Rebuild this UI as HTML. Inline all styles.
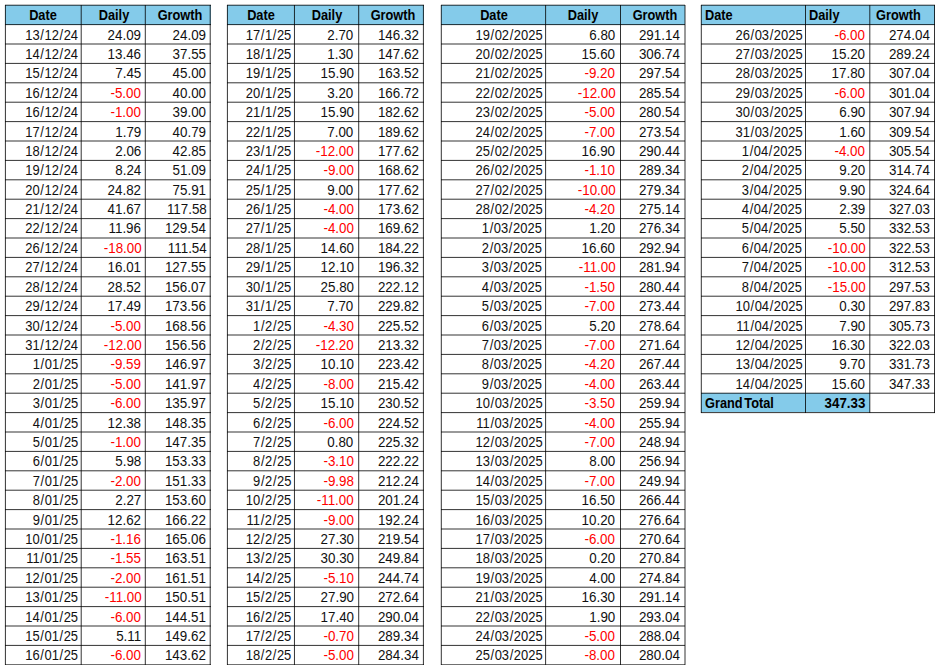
<!DOCTYPE html>
<html><head><meta charset="utf-8"><style>
html,body{margin:0;padding:0;background:#fff;}
body{width:940px;height:665px;position:relative;overflow:hidden;font-family:"Liberation Sans",sans-serif;color:#111;}
i{position:absolute;display:block;background:#000;}
i.f{background:#84CBEA;}
p{position:absolute;margin:0;height:20px;line-height:20px;font-size:14.0px;white-space:nowrap;}
p.r{transform-origin:100% 50%;transform:scaleX(0.955);}
p.l{transform-origin:0 50%;transform:scaleX(0.955);}
p.c{width:100px;text-align:center;transform-origin:50% 50%;transform:scaleX(0.955);}
p.n{color:#ff0000;}
p.d{transform:scaleX(0.925);}
s{text-decoration:none;padding:0 .65px;}
p.h{font-weight:bold;font-size:14.2px;color:#000;transform:scaleX(0.9);}
p.g{transform:scaleX(0.94);}
p.w{word-spacing:-2px;}
</style></head><body>
<i class="f" style="left:5px;top:5px;width:206px;height:20px"></i>
<i style="left:5px;top:4px;width:206px;height:1px;opacity:0.24"></i>
<i style="left:5px;top:5px;width:206px;height:1px;opacity:0.56"></i>
<i style="left:5px;top:24px;width:206px;height:1px;opacity:0.72"></i>
<i style="left:5px;top:25px;width:206px;height:1px;opacity:0.08"></i>
<i style="left:5px;top:43px;width:206px;height:1px;opacity:0.4"></i>
<i style="left:5px;top:44px;width:206px;height:1px;opacity:0.4"></i>
<i style="left:5px;top:62px;width:206px;height:1px;opacity:0.08"></i>
<i style="left:5px;top:63px;width:206px;height:1px;opacity:0.72"></i>
<i style="left:5px;top:82px;width:206px;height:1px;opacity:0.56"></i>
<i style="left:5px;top:83px;width:206px;height:1px;opacity:0.24"></i>
<i style="left:5px;top:101px;width:206px;height:1px;opacity:0.24"></i>
<i style="left:5px;top:102px;width:206px;height:1px;opacity:0.56"></i>
<i style="left:5px;top:121px;width:206px;height:1px;opacity:0.72"></i>
<i style="left:5px;top:122px;width:206px;height:1px;opacity:0.08"></i>
<i style="left:5px;top:140px;width:206px;height:1px;opacity:0.4"></i>
<i style="left:5px;top:141px;width:206px;height:1px;opacity:0.4"></i>
<i style="left:5px;top:159px;width:206px;height:1px;opacity:0.08"></i>
<i style="left:5px;top:160px;width:206px;height:1px;opacity:0.72"></i>
<i style="left:5px;top:179px;width:206px;height:1px;opacity:0.56"></i>
<i style="left:5px;top:180px;width:206px;height:1px;opacity:0.24"></i>
<i style="left:5px;top:198px;width:206px;height:1px;opacity:0.24"></i>
<i style="left:5px;top:199px;width:206px;height:1px;opacity:0.56"></i>
<i style="left:5px;top:218px;width:206px;height:1px;opacity:0.72"></i>
<i style="left:5px;top:219px;width:206px;height:1px;opacity:0.08"></i>
<i style="left:5px;top:237px;width:206px;height:1px;opacity:0.4"></i>
<i style="left:5px;top:238px;width:206px;height:1px;opacity:0.4"></i>
<i style="left:5px;top:256px;width:206px;height:1px;opacity:0.08"></i>
<i style="left:5px;top:257px;width:206px;height:1px;opacity:0.72"></i>
<i style="left:5px;top:276px;width:206px;height:1px;opacity:0.56"></i>
<i style="left:5px;top:277px;width:206px;height:1px;opacity:0.24"></i>
<i style="left:5px;top:295px;width:206px;height:1px;opacity:0.24"></i>
<i style="left:5px;top:296px;width:206px;height:1px;opacity:0.56"></i>
<i style="left:5px;top:315px;width:206px;height:1px;opacity:0.72"></i>
<i style="left:5px;top:316px;width:206px;height:1px;opacity:0.08"></i>
<i style="left:5px;top:334px;width:206px;height:1px;opacity:0.4"></i>
<i style="left:5px;top:335px;width:206px;height:1px;opacity:0.4"></i>
<i style="left:5px;top:353px;width:206px;height:1px;opacity:0.08"></i>
<i style="left:5px;top:354px;width:206px;height:1px;opacity:0.72"></i>
<i style="left:5px;top:373px;width:206px;height:1px;opacity:0.56"></i>
<i style="left:5px;top:374px;width:206px;height:1px;opacity:0.24"></i>
<i style="left:5px;top:392px;width:206px;height:1px;opacity:0.24"></i>
<i style="left:5px;top:393px;width:206px;height:1px;opacity:0.56"></i>
<i style="left:5px;top:412px;width:206px;height:1px;opacity:0.72"></i>
<i style="left:5px;top:413px;width:206px;height:1px;opacity:0.08"></i>
<i style="left:5px;top:431px;width:206px;height:1px;opacity:0.4"></i>
<i style="left:5px;top:432px;width:206px;height:1px;opacity:0.4"></i>
<i style="left:5px;top:450px;width:206px;height:1px;opacity:0.08"></i>
<i style="left:5px;top:451px;width:206px;height:1px;opacity:0.72"></i>
<i style="left:5px;top:470px;width:206px;height:1px;opacity:0.56"></i>
<i style="left:5px;top:471px;width:206px;height:1px;opacity:0.24"></i>
<i style="left:5px;top:489px;width:206px;height:1px;opacity:0.24"></i>
<i style="left:5px;top:490px;width:206px;height:1px;opacity:0.56"></i>
<i style="left:5px;top:509px;width:206px;height:1px;opacity:0.72"></i>
<i style="left:5px;top:510px;width:206px;height:1px;opacity:0.08"></i>
<i style="left:5px;top:528px;width:206px;height:1px;opacity:0.4"></i>
<i style="left:5px;top:529px;width:206px;height:1px;opacity:0.4"></i>
<i style="left:5px;top:547px;width:206px;height:1px;opacity:0.08"></i>
<i style="left:5px;top:548px;width:206px;height:1px;opacity:0.72"></i>
<i style="left:5px;top:567px;width:206px;height:1px;opacity:0.56"></i>
<i style="left:5px;top:568px;width:206px;height:1px;opacity:0.24"></i>
<i style="left:5px;top:586px;width:206px;height:1px;opacity:0.24"></i>
<i style="left:5px;top:587px;width:206px;height:1px;opacity:0.56"></i>
<i style="left:5px;top:606px;width:206px;height:1px;opacity:0.72"></i>
<i style="left:5px;top:607px;width:206px;height:1px;opacity:0.08"></i>
<i style="left:5px;top:625px;width:206px;height:1px;opacity:0.4"></i>
<i style="left:5px;top:626px;width:206px;height:1px;opacity:0.4"></i>
<i style="left:5px;top:644px;width:206px;height:1px;opacity:0.08"></i>
<i style="left:5px;top:645px;width:206px;height:1px;opacity:0.72"></i>
<i style="left:5px;top:664px;width:206px;height:1px;opacity:0.56"></i>
<i style="left:5px;top:665px;width:206px;height:1px;opacity:0.24"></i>
<i style="left:4px;top:5px;width:1px;height:660px;opacity:0.08"></i>
<i style="left:5px;top:5px;width:1px;height:660px;opacity:0.72"></i>
<i style="left:80px;top:5px;width:1px;height:660px;opacity:0.24"></i>
<i style="left:81px;top:5px;width:1px;height:660px;opacity:0.56"></i>
<i style="left:144px;top:5px;width:1px;height:660px;opacity:0.16"></i>
<i style="left:145px;top:5px;width:1px;height:660px;opacity:0.64"></i>
<i style="left:209px;top:5px;width:1px;height:660px;opacity:0.24"></i>
<i style="left:210px;top:5px;width:1px;height:660px;opacity:0.56"></i>
<i class="f" style="left:227px;top:5px;width:197px;height:20px"></i>
<i style="left:227px;top:4px;width:197px;height:1px;opacity:0.24"></i>
<i style="left:227px;top:5px;width:197px;height:1px;opacity:0.56"></i>
<i style="left:227px;top:24px;width:197px;height:1px;opacity:0.72"></i>
<i style="left:227px;top:25px;width:197px;height:1px;opacity:0.08"></i>
<i style="left:227px;top:43px;width:197px;height:1px;opacity:0.4"></i>
<i style="left:227px;top:44px;width:197px;height:1px;opacity:0.4"></i>
<i style="left:227px;top:62px;width:197px;height:1px;opacity:0.08"></i>
<i style="left:227px;top:63px;width:197px;height:1px;opacity:0.72"></i>
<i style="left:227px;top:82px;width:197px;height:1px;opacity:0.56"></i>
<i style="left:227px;top:83px;width:197px;height:1px;opacity:0.24"></i>
<i style="left:227px;top:101px;width:197px;height:1px;opacity:0.24"></i>
<i style="left:227px;top:102px;width:197px;height:1px;opacity:0.56"></i>
<i style="left:227px;top:121px;width:197px;height:1px;opacity:0.72"></i>
<i style="left:227px;top:122px;width:197px;height:1px;opacity:0.08"></i>
<i style="left:227px;top:140px;width:197px;height:1px;opacity:0.4"></i>
<i style="left:227px;top:141px;width:197px;height:1px;opacity:0.4"></i>
<i style="left:227px;top:159px;width:197px;height:1px;opacity:0.08"></i>
<i style="left:227px;top:160px;width:197px;height:1px;opacity:0.72"></i>
<i style="left:227px;top:179px;width:197px;height:1px;opacity:0.56"></i>
<i style="left:227px;top:180px;width:197px;height:1px;opacity:0.24"></i>
<i style="left:227px;top:198px;width:197px;height:1px;opacity:0.24"></i>
<i style="left:227px;top:199px;width:197px;height:1px;opacity:0.56"></i>
<i style="left:227px;top:218px;width:197px;height:1px;opacity:0.72"></i>
<i style="left:227px;top:219px;width:197px;height:1px;opacity:0.08"></i>
<i style="left:227px;top:237px;width:197px;height:1px;opacity:0.4"></i>
<i style="left:227px;top:238px;width:197px;height:1px;opacity:0.4"></i>
<i style="left:227px;top:256px;width:197px;height:1px;opacity:0.08"></i>
<i style="left:227px;top:257px;width:197px;height:1px;opacity:0.72"></i>
<i style="left:227px;top:276px;width:197px;height:1px;opacity:0.56"></i>
<i style="left:227px;top:277px;width:197px;height:1px;opacity:0.24"></i>
<i style="left:227px;top:295px;width:197px;height:1px;opacity:0.24"></i>
<i style="left:227px;top:296px;width:197px;height:1px;opacity:0.56"></i>
<i style="left:227px;top:315px;width:197px;height:1px;opacity:0.72"></i>
<i style="left:227px;top:316px;width:197px;height:1px;opacity:0.08"></i>
<i style="left:227px;top:334px;width:197px;height:1px;opacity:0.4"></i>
<i style="left:227px;top:335px;width:197px;height:1px;opacity:0.4"></i>
<i style="left:227px;top:353px;width:197px;height:1px;opacity:0.08"></i>
<i style="left:227px;top:354px;width:197px;height:1px;opacity:0.72"></i>
<i style="left:227px;top:373px;width:197px;height:1px;opacity:0.56"></i>
<i style="left:227px;top:374px;width:197px;height:1px;opacity:0.24"></i>
<i style="left:227px;top:392px;width:197px;height:1px;opacity:0.24"></i>
<i style="left:227px;top:393px;width:197px;height:1px;opacity:0.56"></i>
<i style="left:227px;top:412px;width:197px;height:1px;opacity:0.72"></i>
<i style="left:227px;top:413px;width:197px;height:1px;opacity:0.08"></i>
<i style="left:227px;top:431px;width:197px;height:1px;opacity:0.4"></i>
<i style="left:227px;top:432px;width:197px;height:1px;opacity:0.4"></i>
<i style="left:227px;top:450px;width:197px;height:1px;opacity:0.08"></i>
<i style="left:227px;top:451px;width:197px;height:1px;opacity:0.72"></i>
<i style="left:227px;top:470px;width:197px;height:1px;opacity:0.56"></i>
<i style="left:227px;top:471px;width:197px;height:1px;opacity:0.24"></i>
<i style="left:227px;top:489px;width:197px;height:1px;opacity:0.24"></i>
<i style="left:227px;top:490px;width:197px;height:1px;opacity:0.56"></i>
<i style="left:227px;top:509px;width:197px;height:1px;opacity:0.72"></i>
<i style="left:227px;top:510px;width:197px;height:1px;opacity:0.08"></i>
<i style="left:227px;top:528px;width:197px;height:1px;opacity:0.4"></i>
<i style="left:227px;top:529px;width:197px;height:1px;opacity:0.4"></i>
<i style="left:227px;top:547px;width:197px;height:1px;opacity:0.08"></i>
<i style="left:227px;top:548px;width:197px;height:1px;opacity:0.72"></i>
<i style="left:227px;top:567px;width:197px;height:1px;opacity:0.56"></i>
<i style="left:227px;top:568px;width:197px;height:1px;opacity:0.24"></i>
<i style="left:227px;top:586px;width:197px;height:1px;opacity:0.24"></i>
<i style="left:227px;top:587px;width:197px;height:1px;opacity:0.56"></i>
<i style="left:227px;top:606px;width:197px;height:1px;opacity:0.72"></i>
<i style="left:227px;top:607px;width:197px;height:1px;opacity:0.08"></i>
<i style="left:227px;top:625px;width:197px;height:1px;opacity:0.4"></i>
<i style="left:227px;top:626px;width:197px;height:1px;opacity:0.4"></i>
<i style="left:227px;top:644px;width:197px;height:1px;opacity:0.08"></i>
<i style="left:227px;top:645px;width:197px;height:1px;opacity:0.72"></i>
<i style="left:227px;top:664px;width:197px;height:1px;opacity:0.56"></i>
<i style="left:227px;top:665px;width:197px;height:1px;opacity:0.24"></i>
<i style="left:226px;top:5px;width:1px;height:660px;opacity:0.08"></i>
<i style="left:227px;top:5px;width:1px;height:660px;opacity:0.72"></i>
<i style="left:293px;top:5px;width:1px;height:660px;opacity:0.04"></i>
<i style="left:294px;top:5px;width:1px;height:660px;opacity:0.76"></i>
<i style="left:358px;top:5px;width:1px;height:660px;opacity:0.64"></i>
<i style="left:359px;top:5px;width:1px;height:660px;opacity:0.16"></i>
<i style="left:422px;top:5px;width:1px;height:660px;opacity:0.08"></i>
<i style="left:423px;top:5px;width:1px;height:660px;opacity:0.72"></i>
<i class="f" style="left:441px;top:5px;width:244px;height:20px"></i>
<i style="left:441px;top:4px;width:244px;height:1px;opacity:0.24"></i>
<i style="left:441px;top:5px;width:244px;height:1px;opacity:0.56"></i>
<i style="left:441px;top:24px;width:244px;height:1px;opacity:0.72"></i>
<i style="left:441px;top:25px;width:244px;height:1px;opacity:0.08"></i>
<i style="left:441px;top:43px;width:244px;height:1px;opacity:0.4"></i>
<i style="left:441px;top:44px;width:244px;height:1px;opacity:0.4"></i>
<i style="left:441px;top:62px;width:244px;height:1px;opacity:0.08"></i>
<i style="left:441px;top:63px;width:244px;height:1px;opacity:0.72"></i>
<i style="left:441px;top:82px;width:244px;height:1px;opacity:0.56"></i>
<i style="left:441px;top:83px;width:244px;height:1px;opacity:0.24"></i>
<i style="left:441px;top:101px;width:244px;height:1px;opacity:0.24"></i>
<i style="left:441px;top:102px;width:244px;height:1px;opacity:0.56"></i>
<i style="left:441px;top:121px;width:244px;height:1px;opacity:0.72"></i>
<i style="left:441px;top:122px;width:244px;height:1px;opacity:0.08"></i>
<i style="left:441px;top:140px;width:244px;height:1px;opacity:0.4"></i>
<i style="left:441px;top:141px;width:244px;height:1px;opacity:0.4"></i>
<i style="left:441px;top:159px;width:244px;height:1px;opacity:0.08"></i>
<i style="left:441px;top:160px;width:244px;height:1px;opacity:0.72"></i>
<i style="left:441px;top:179px;width:244px;height:1px;opacity:0.56"></i>
<i style="left:441px;top:180px;width:244px;height:1px;opacity:0.24"></i>
<i style="left:441px;top:198px;width:244px;height:1px;opacity:0.24"></i>
<i style="left:441px;top:199px;width:244px;height:1px;opacity:0.56"></i>
<i style="left:441px;top:218px;width:244px;height:1px;opacity:0.72"></i>
<i style="left:441px;top:219px;width:244px;height:1px;opacity:0.08"></i>
<i style="left:441px;top:237px;width:244px;height:1px;opacity:0.4"></i>
<i style="left:441px;top:238px;width:244px;height:1px;opacity:0.4"></i>
<i style="left:441px;top:256px;width:244px;height:1px;opacity:0.08"></i>
<i style="left:441px;top:257px;width:244px;height:1px;opacity:0.72"></i>
<i style="left:441px;top:276px;width:244px;height:1px;opacity:0.56"></i>
<i style="left:441px;top:277px;width:244px;height:1px;opacity:0.24"></i>
<i style="left:441px;top:295px;width:244px;height:1px;opacity:0.24"></i>
<i style="left:441px;top:296px;width:244px;height:1px;opacity:0.56"></i>
<i style="left:441px;top:315px;width:244px;height:1px;opacity:0.72"></i>
<i style="left:441px;top:316px;width:244px;height:1px;opacity:0.08"></i>
<i style="left:441px;top:334px;width:244px;height:1px;opacity:0.4"></i>
<i style="left:441px;top:335px;width:244px;height:1px;opacity:0.4"></i>
<i style="left:441px;top:353px;width:244px;height:1px;opacity:0.08"></i>
<i style="left:441px;top:354px;width:244px;height:1px;opacity:0.72"></i>
<i style="left:441px;top:373px;width:244px;height:1px;opacity:0.56"></i>
<i style="left:441px;top:374px;width:244px;height:1px;opacity:0.24"></i>
<i style="left:441px;top:392px;width:244px;height:1px;opacity:0.24"></i>
<i style="left:441px;top:393px;width:244px;height:1px;opacity:0.56"></i>
<i style="left:441px;top:412px;width:244px;height:1px;opacity:0.72"></i>
<i style="left:441px;top:413px;width:244px;height:1px;opacity:0.08"></i>
<i style="left:441px;top:431px;width:244px;height:1px;opacity:0.4"></i>
<i style="left:441px;top:432px;width:244px;height:1px;opacity:0.4"></i>
<i style="left:441px;top:450px;width:244px;height:1px;opacity:0.08"></i>
<i style="left:441px;top:451px;width:244px;height:1px;opacity:0.72"></i>
<i style="left:441px;top:470px;width:244px;height:1px;opacity:0.56"></i>
<i style="left:441px;top:471px;width:244px;height:1px;opacity:0.24"></i>
<i style="left:441px;top:489px;width:244px;height:1px;opacity:0.24"></i>
<i style="left:441px;top:490px;width:244px;height:1px;opacity:0.56"></i>
<i style="left:441px;top:509px;width:244px;height:1px;opacity:0.72"></i>
<i style="left:441px;top:510px;width:244px;height:1px;opacity:0.08"></i>
<i style="left:441px;top:528px;width:244px;height:1px;opacity:0.4"></i>
<i style="left:441px;top:529px;width:244px;height:1px;opacity:0.4"></i>
<i style="left:441px;top:547px;width:244px;height:1px;opacity:0.08"></i>
<i style="left:441px;top:548px;width:244px;height:1px;opacity:0.72"></i>
<i style="left:441px;top:567px;width:244px;height:1px;opacity:0.56"></i>
<i style="left:441px;top:568px;width:244px;height:1px;opacity:0.24"></i>
<i style="left:441px;top:586px;width:244px;height:1px;opacity:0.24"></i>
<i style="left:441px;top:587px;width:244px;height:1px;opacity:0.56"></i>
<i style="left:441px;top:606px;width:244px;height:1px;opacity:0.72"></i>
<i style="left:441px;top:607px;width:244px;height:1px;opacity:0.08"></i>
<i style="left:441px;top:625px;width:244px;height:1px;opacity:0.4"></i>
<i style="left:441px;top:626px;width:244px;height:1px;opacity:0.4"></i>
<i style="left:441px;top:644px;width:244px;height:1px;opacity:0.08"></i>
<i style="left:441px;top:645px;width:244px;height:1px;opacity:0.72"></i>
<i style="left:441px;top:664px;width:244px;height:1px;opacity:0.56"></i>
<i style="left:441px;top:665px;width:244px;height:1px;opacity:0.24"></i>
<i style="left:440px;top:5px;width:1px;height:660px;opacity:0.16"></i>
<i style="left:441px;top:5px;width:1px;height:660px;opacity:0.64"></i>
<i style="left:545px;top:5px;width:1px;height:660px;opacity:0.72"></i>
<i style="left:546px;top:5px;width:1px;height:660px;opacity:0.08"></i>
<i style="left:620px;top:5px;width:1px;height:660px;opacity:0.8"></i>
<i style="left:684px;top:5px;width:1px;height:660px;opacity:0.4"></i>
<i style="left:685px;top:5px;width:1px;height:660px;opacity:0.4"></i>
<i class="f" style="left:701px;top:5px;width:234px;height:20px"></i>
<i class="f" style="left:701px;top:393px;width:169px;height:19px"></i>
<i style="left:701px;top:4px;width:234px;height:1px;opacity:0.24"></i>
<i style="left:701px;top:5px;width:234px;height:1px;opacity:0.56"></i>
<i style="left:701px;top:24px;width:234px;height:1px;opacity:0.72"></i>
<i style="left:701px;top:25px;width:234px;height:1px;opacity:0.08"></i>
<i style="left:701px;top:43px;width:234px;height:1px;opacity:0.4"></i>
<i style="left:701px;top:44px;width:234px;height:1px;opacity:0.4"></i>
<i style="left:701px;top:62px;width:234px;height:1px;opacity:0.08"></i>
<i style="left:701px;top:63px;width:234px;height:1px;opacity:0.72"></i>
<i style="left:701px;top:82px;width:234px;height:1px;opacity:0.56"></i>
<i style="left:701px;top:83px;width:234px;height:1px;opacity:0.24"></i>
<i style="left:701px;top:101px;width:234px;height:1px;opacity:0.24"></i>
<i style="left:701px;top:102px;width:234px;height:1px;opacity:0.56"></i>
<i style="left:701px;top:121px;width:234px;height:1px;opacity:0.72"></i>
<i style="left:701px;top:122px;width:234px;height:1px;opacity:0.08"></i>
<i style="left:701px;top:140px;width:234px;height:1px;opacity:0.4"></i>
<i style="left:701px;top:141px;width:234px;height:1px;opacity:0.4"></i>
<i style="left:701px;top:159px;width:234px;height:1px;opacity:0.08"></i>
<i style="left:701px;top:160px;width:234px;height:1px;opacity:0.72"></i>
<i style="left:701px;top:179px;width:234px;height:1px;opacity:0.56"></i>
<i style="left:701px;top:180px;width:234px;height:1px;opacity:0.24"></i>
<i style="left:701px;top:198px;width:234px;height:1px;opacity:0.24"></i>
<i style="left:701px;top:199px;width:234px;height:1px;opacity:0.56"></i>
<i style="left:701px;top:218px;width:234px;height:1px;opacity:0.72"></i>
<i style="left:701px;top:219px;width:234px;height:1px;opacity:0.08"></i>
<i style="left:701px;top:237px;width:234px;height:1px;opacity:0.4"></i>
<i style="left:701px;top:238px;width:234px;height:1px;opacity:0.4"></i>
<i style="left:701px;top:256px;width:234px;height:1px;opacity:0.08"></i>
<i style="left:701px;top:257px;width:234px;height:1px;opacity:0.72"></i>
<i style="left:701px;top:276px;width:234px;height:1px;opacity:0.56"></i>
<i style="left:701px;top:277px;width:234px;height:1px;opacity:0.24"></i>
<i style="left:701px;top:295px;width:234px;height:1px;opacity:0.24"></i>
<i style="left:701px;top:296px;width:234px;height:1px;opacity:0.56"></i>
<i style="left:701px;top:315px;width:234px;height:1px;opacity:0.72"></i>
<i style="left:701px;top:316px;width:234px;height:1px;opacity:0.08"></i>
<i style="left:701px;top:334px;width:234px;height:1px;opacity:0.4"></i>
<i style="left:701px;top:335px;width:234px;height:1px;opacity:0.4"></i>
<i style="left:701px;top:353px;width:234px;height:1px;opacity:0.08"></i>
<i style="left:701px;top:354px;width:234px;height:1px;opacity:0.72"></i>
<i style="left:701px;top:373px;width:234px;height:1px;opacity:0.56"></i>
<i style="left:701px;top:374px;width:234px;height:1px;opacity:0.24"></i>
<i style="left:701px;top:392px;width:234px;height:1px;opacity:0.24"></i>
<i style="left:701px;top:393px;width:234px;height:1px;opacity:0.56"></i>
<i style="left:701px;top:412px;width:234px;height:1px;opacity:0.72"></i>
<i style="left:701px;top:413px;width:234px;height:1px;opacity:0.08"></i>
<i style="left:700px;top:5px;width:1px;height:408px;opacity:0.16"></i>
<i style="left:701px;top:5px;width:1px;height:408px;opacity:0.64"></i>
<i style="left:805px;top:5px;width:1px;height:408px;opacity:0.8"></i>
<i style="left:869px;top:5px;width:1px;height:408px;opacity:0.56"></i>
<i style="left:870px;top:5px;width:1px;height:408px;opacity:0.24"></i>
<i style="left:934px;top:5px;width:1px;height:408px;opacity:0.8"></i>
<p class="c h" style="left:-7.5px;top:5px">Date</p>
<p class="c h" style="left:63.5px;top:5px">Daily</p>
<p class="c h" style="left:129.5px;top:5px">Growth</p>
<p class="r d" style="right:861.65px;top:25px">13<s>/</s>12<s>/</s>24</p>
<p class="r" style="right:798.7px;top:25px">24.09</p>
<p class="r" style="right:733.7px;top:25px">24.09</p>
<p class="r d" style="right:861.65px;top:44px">14<s>/</s>12<s>/</s>24</p>
<p class="r" style="right:798.7px;top:44px">13.46</p>
<p class="r" style="right:733.7px;top:44px">37.55</p>
<p class="r d" style="right:861.65px;top:63px">15<s>/</s>12<s>/</s>24</p>
<p class="r" style="right:798.7px;top:63px">7.45</p>
<p class="r" style="right:733.7px;top:63px">45.00</p>
<p class="r d" style="right:861.65px;top:83px">16<s>/</s>12<s>/</s>24</p>
<p class="r n" style="right:798.7px;top:83px">-5.00</p>
<p class="r" style="right:733.7px;top:83px">40.00</p>
<p class="r d" style="right:861.65px;top:102px">16<s>/</s>12<s>/</s>24</p>
<p class="r n" style="right:798.7px;top:102px">-1.00</p>
<p class="r" style="right:733.7px;top:102px">39.00</p>
<p class="r d" style="right:861.65px;top:122px">17<s>/</s>12<s>/</s>24</p>
<p class="r" style="right:798.7px;top:122px">1.79</p>
<p class="r" style="right:733.7px;top:122px">40.79</p>
<p class="r d" style="right:861.65px;top:141px">18<s>/</s>12<s>/</s>24</p>
<p class="r" style="right:798.7px;top:141px">2.06</p>
<p class="r" style="right:733.7px;top:141px">42.85</p>
<p class="r d" style="right:861.65px;top:160px">19<s>/</s>12<s>/</s>24</p>
<p class="r" style="right:798.7px;top:160px">8.24</p>
<p class="r" style="right:733.7px;top:160px">51.09</p>
<p class="r d" style="right:861.65px;top:180px">20<s>/</s>12<s>/</s>24</p>
<p class="r" style="right:798.7px;top:180px">24.82</p>
<p class="r" style="right:733.7px;top:180px">75.91</p>
<p class="r d" style="right:861.65px;top:199px">21<s>/</s>12<s>/</s>24</p>
<p class="r" style="right:798.7px;top:199px">41.67</p>
<p class="r" style="right:733.7px;top:199px">117.58</p>
<p class="r d" style="right:861.65px;top:218px">22<s>/</s>12<s>/</s>24</p>
<p class="r" style="right:798.7px;top:218px">11.96</p>
<p class="r" style="right:733.7px;top:218px">129.54</p>
<p class="r d" style="right:861.65px;top:238px">26<s>/</s>12<s>/</s>24</p>
<p class="r n" style="right:798.7px;top:238px">-18.00</p>
<p class="r" style="right:733.7px;top:238px">111.54</p>
<p class="r d" style="right:861.65px;top:257px">27<s>/</s>12<s>/</s>24</p>
<p class="r" style="right:798.7px;top:257px">16.01</p>
<p class="r" style="right:733.7px;top:257px">127.55</p>
<p class="r d" style="right:861.65px;top:277px">28<s>/</s>12<s>/</s>24</p>
<p class="r" style="right:798.7px;top:277px">28.52</p>
<p class="r" style="right:733.7px;top:277px">156.07</p>
<p class="r d" style="right:861.65px;top:296px">29<s>/</s>12<s>/</s>24</p>
<p class="r" style="right:798.7px;top:296px">17.49</p>
<p class="r" style="right:733.7px;top:296px">173.56</p>
<p class="r d" style="right:861.65px;top:316px">30<s>/</s>12<s>/</s>24</p>
<p class="r n" style="right:798.7px;top:316px">-5.00</p>
<p class="r" style="right:733.7px;top:316px">168.56</p>
<p class="r d" style="right:861.65px;top:335px">31<s>/</s>12<s>/</s>24</p>
<p class="r n" style="right:798.7px;top:335px">-12.00</p>
<p class="r" style="right:733.7px;top:335px">156.56</p>
<p class="r d" style="right:861.65px;top:354px">1<s>/</s>01<s>/</s>25</p>
<p class="r n" style="right:798.7px;top:354px">-9.59</p>
<p class="r" style="right:733.7px;top:354px">146.97</p>
<p class="r d" style="right:861.65px;top:374px">2<s>/</s>01<s>/</s>25</p>
<p class="r n" style="right:798.7px;top:374px">-5.00</p>
<p class="r" style="right:733.7px;top:374px">141.97</p>
<p class="r d" style="right:861.65px;top:393px">3<s>/</s>01<s>/</s>25</p>
<p class="r n" style="right:798.7px;top:393px">-6.00</p>
<p class="r" style="right:733.7px;top:393px">135.97</p>
<p class="r d" style="right:861.65px;top:413px">4<s>/</s>01<s>/</s>25</p>
<p class="r" style="right:798.7px;top:413px">12.38</p>
<p class="r" style="right:733.7px;top:413px">148.35</p>
<p class="r d" style="right:861.65px;top:432px">5<s>/</s>01<s>/</s>25</p>
<p class="r n" style="right:798.7px;top:432px">-1.00</p>
<p class="r" style="right:733.7px;top:432px">147.35</p>
<p class="r d" style="right:861.65px;top:451px">6<s>/</s>01<s>/</s>25</p>
<p class="r" style="right:798.7px;top:451px">5.98</p>
<p class="r" style="right:733.7px;top:451px">153.33</p>
<p class="r d" style="right:861.65px;top:471px">7<s>/</s>01<s>/</s>25</p>
<p class="r n" style="right:798.7px;top:471px">-2.00</p>
<p class="r" style="right:733.7px;top:471px">151.33</p>
<p class="r d" style="right:861.65px;top:490px">8<s>/</s>01<s>/</s>25</p>
<p class="r" style="right:798.7px;top:490px">2.27</p>
<p class="r" style="right:733.7px;top:490px">153.60</p>
<p class="r d" style="right:861.65px;top:510px">9<s>/</s>01<s>/</s>25</p>
<p class="r" style="right:798.7px;top:510px">12.62</p>
<p class="r" style="right:733.7px;top:510px">166.22</p>
<p class="r d" style="right:861.65px;top:529px">10<s>/</s>01<s>/</s>25</p>
<p class="r n" style="right:798.7px;top:529px">-1.16</p>
<p class="r" style="right:733.7px;top:529px">165.06</p>
<p class="r d" style="right:861.65px;top:548px">11<s>/</s>01<s>/</s>25</p>
<p class="r n" style="right:798.7px;top:548px">-1.55</p>
<p class="r" style="right:733.7px;top:548px">163.51</p>
<p class="r d" style="right:861.65px;top:568px">12<s>/</s>01<s>/</s>25</p>
<p class="r n" style="right:798.7px;top:568px">-2.00</p>
<p class="r" style="right:733.7px;top:568px">161.51</p>
<p class="r d" style="right:861.65px;top:587px">13<s>/</s>01<s>/</s>25</p>
<p class="r n" style="right:798.7px;top:587px">-11.00</p>
<p class="r" style="right:733.7px;top:587px">150.51</p>
<p class="r d" style="right:861.65px;top:607px">14<s>/</s>01<s>/</s>25</p>
<p class="r n" style="right:798.7px;top:607px">-6.00</p>
<p class="r" style="right:733.7px;top:607px">144.51</p>
<p class="r d" style="right:861.65px;top:626px">15<s>/</s>01<s>/</s>25</p>
<p class="r" style="right:798.7px;top:626px">5.11</p>
<p class="r" style="right:733.7px;top:626px">149.62</p>
<p class="r d" style="right:861.65px;top:645px">16<s>/</s>01<s>/</s>25</p>
<p class="r n" style="right:798.7px;top:645px">-6.00</p>
<p class="r" style="right:733.7px;top:645px">143.62</p>
<p class="c h" style="left:211px;top:5px">Date</p>
<p class="c h" style="left:276.5px;top:5px">Daily</p>
<p class="c h" style="left:342.5px;top:5px">Growth</p>
<p class="r d" style="right:648.65px;top:25px">17<s>/</s>1<s>/</s>25</p>
<p class="r" style="right:586.4px;top:25px">2.70</p>
<p class="r" style="right:521.1px;top:25px">146.32</p>
<p class="r d" style="right:648.65px;top:44px">18<s>/</s>1<s>/</s>25</p>
<p class="r" style="right:586.4px;top:44px">1.30</p>
<p class="r" style="right:521.1px;top:44px">147.62</p>
<p class="r d" style="right:648.65px;top:63px">19<s>/</s>1<s>/</s>25</p>
<p class="r" style="right:586.4px;top:63px">15.90</p>
<p class="r" style="right:521.1px;top:63px">163.52</p>
<p class="r d" style="right:648.65px;top:83px">20<s>/</s>1<s>/</s>25</p>
<p class="r" style="right:586.4px;top:83px">3.20</p>
<p class="r" style="right:521.1px;top:83px">166.72</p>
<p class="r d" style="right:648.65px;top:102px">21<s>/</s>1<s>/</s>25</p>
<p class="r" style="right:586.4px;top:102px">15.90</p>
<p class="r" style="right:521.1px;top:102px">182.62</p>
<p class="r d" style="right:648.65px;top:122px">22<s>/</s>1<s>/</s>25</p>
<p class="r" style="right:586.4px;top:122px">7.00</p>
<p class="r" style="right:521.1px;top:122px">189.62</p>
<p class="r d" style="right:648.65px;top:141px">23<s>/</s>1<s>/</s>25</p>
<p class="r n" style="right:586.4px;top:141px">-12.00</p>
<p class="r" style="right:521.1px;top:141px">177.62</p>
<p class="r d" style="right:648.65px;top:160px">24<s>/</s>1<s>/</s>25</p>
<p class="r n" style="right:586.4px;top:160px">-9.00</p>
<p class="r" style="right:521.1px;top:160px">168.62</p>
<p class="r d" style="right:648.65px;top:180px">25<s>/</s>1<s>/</s>25</p>
<p class="r" style="right:586.4px;top:180px">9.00</p>
<p class="r" style="right:521.1px;top:180px">177.62</p>
<p class="r d" style="right:648.65px;top:199px">26<s>/</s>1<s>/</s>25</p>
<p class="r n" style="right:586.4px;top:199px">-4.00</p>
<p class="r" style="right:521.1px;top:199px">173.62</p>
<p class="r d" style="right:648.65px;top:218px">27<s>/</s>1<s>/</s>25</p>
<p class="r n" style="right:586.4px;top:218px">-4.00</p>
<p class="r" style="right:521.1px;top:218px">169.62</p>
<p class="r d" style="right:648.65px;top:238px">28<s>/</s>1<s>/</s>25</p>
<p class="r" style="right:586.4px;top:238px">14.60</p>
<p class="r" style="right:521.1px;top:238px">184.22</p>
<p class="r d" style="right:648.65px;top:257px">29<s>/</s>1<s>/</s>25</p>
<p class="r" style="right:586.4px;top:257px">12.10</p>
<p class="r" style="right:521.1px;top:257px">196.32</p>
<p class="r d" style="right:648.65px;top:277px">30<s>/</s>1<s>/</s>25</p>
<p class="r" style="right:586.4px;top:277px">25.80</p>
<p class="r" style="right:521.1px;top:277px">222.12</p>
<p class="r d" style="right:648.65px;top:296px">31<s>/</s>1<s>/</s>25</p>
<p class="r" style="right:586.4px;top:296px">7.70</p>
<p class="r" style="right:521.1px;top:296px">229.82</p>
<p class="r d" style="right:648.65px;top:316px">1<s>/</s>2<s>/</s>25</p>
<p class="r n" style="right:586.4px;top:316px">-4.30</p>
<p class="r" style="right:521.1px;top:316px">225.52</p>
<p class="r d" style="right:648.65px;top:335px">2<s>/</s>2<s>/</s>25</p>
<p class="r n" style="right:586.4px;top:335px">-12.20</p>
<p class="r" style="right:521.1px;top:335px">213.32</p>
<p class="r d" style="right:648.65px;top:354px">3<s>/</s>2<s>/</s>25</p>
<p class="r" style="right:586.4px;top:354px">10.10</p>
<p class="r" style="right:521.1px;top:354px">223.42</p>
<p class="r d" style="right:648.65px;top:374px">4<s>/</s>2<s>/</s>25</p>
<p class="r n" style="right:586.4px;top:374px">-8.00</p>
<p class="r" style="right:521.1px;top:374px">215.42</p>
<p class="r d" style="right:648.65px;top:393px">5<s>/</s>2<s>/</s>25</p>
<p class="r" style="right:586.4px;top:393px">15.10</p>
<p class="r" style="right:521.1px;top:393px">230.52</p>
<p class="r d" style="right:648.65px;top:413px">6<s>/</s>2<s>/</s>25</p>
<p class="r n" style="right:586.4px;top:413px">-6.00</p>
<p class="r" style="right:521.1px;top:413px">224.52</p>
<p class="r d" style="right:648.65px;top:432px">7<s>/</s>2<s>/</s>25</p>
<p class="r" style="right:586.4px;top:432px">0.80</p>
<p class="r" style="right:521.1px;top:432px">225.32</p>
<p class="r d" style="right:648.65px;top:451px">8<s>/</s>2<s>/</s>25</p>
<p class="r n" style="right:586.4px;top:451px">-3.10</p>
<p class="r" style="right:521.1px;top:451px">222.22</p>
<p class="r d" style="right:648.65px;top:471px">9<s>/</s>2<s>/</s>25</p>
<p class="r n" style="right:586.4px;top:471px">-9.98</p>
<p class="r" style="right:521.1px;top:471px">212.24</p>
<p class="r d" style="right:648.65px;top:490px">10<s>/</s>2<s>/</s>25</p>
<p class="r n" style="right:586.4px;top:490px">-11.00</p>
<p class="r" style="right:521.1px;top:490px">201.24</p>
<p class="r d" style="right:648.65px;top:510px">11<s>/</s>2<s>/</s>25</p>
<p class="r n" style="right:586.4px;top:510px">-9.00</p>
<p class="r" style="right:521.1px;top:510px">192.24</p>
<p class="r d" style="right:648.65px;top:529px">12<s>/</s>2<s>/</s>25</p>
<p class="r" style="right:586.4px;top:529px">27.30</p>
<p class="r" style="right:521.1px;top:529px">219.54</p>
<p class="r d" style="right:648.65px;top:548px">13<s>/</s>2<s>/</s>25</p>
<p class="r" style="right:586.4px;top:548px">30.30</p>
<p class="r" style="right:521.1px;top:548px">249.84</p>
<p class="r d" style="right:648.65px;top:568px">14<s>/</s>2<s>/</s>25</p>
<p class="r n" style="right:586.4px;top:568px">-5.10</p>
<p class="r" style="right:521.1px;top:568px">244.74</p>
<p class="r d" style="right:648.65px;top:587px">15<s>/</s>2<s>/</s>25</p>
<p class="r" style="right:586.4px;top:587px">27.90</p>
<p class="r" style="right:521.1px;top:587px">272.64</p>
<p class="r d" style="right:648.65px;top:607px">16<s>/</s>2<s>/</s>25</p>
<p class="r" style="right:586.4px;top:607px">17.40</p>
<p class="r" style="right:521.1px;top:607px">290.04</p>
<p class="r d" style="right:648.65px;top:626px">17<s>/</s>2<s>/</s>25</p>
<p class="r n" style="right:586.4px;top:626px">-0.70</p>
<p class="r" style="right:521.1px;top:626px">289.34</p>
<p class="r d" style="right:648.65px;top:645px">18<s>/</s>2<s>/</s>25</p>
<p class="r n" style="right:586.4px;top:645px">-5.00</p>
<p class="r" style="right:521.1px;top:645px">284.34</p>
<p class="c h" style="left:443.5px;top:5px">Date</p>
<p class="c h" style="left:533px;top:5px">Daily</p>
<p class="c h" style="left:604.5px;top:5px">Growth</p>
<p class="r d" style="right:397.65px;top:25px">19<s>/</s>02<s>/</s>2025</p>
<p class="r" style="right:324.6px;top:25px">6.80</p>
<p class="r" style="right:259.8px;top:25px">291.14</p>
<p class="r d" style="right:397.65px;top:44px">20<s>/</s>02<s>/</s>2025</p>
<p class="r" style="right:324.6px;top:44px">15.60</p>
<p class="r" style="right:259.8px;top:44px">306.74</p>
<p class="r d" style="right:397.65px;top:63px">21<s>/</s>02<s>/</s>2025</p>
<p class="r n" style="right:324.6px;top:63px">-9.20</p>
<p class="r" style="right:259.8px;top:63px">297.54</p>
<p class="r d" style="right:397.65px;top:83px">22<s>/</s>02<s>/</s>2025</p>
<p class="r n" style="right:324.6px;top:83px">-12.00</p>
<p class="r" style="right:259.8px;top:83px">285.54</p>
<p class="r d" style="right:397.65px;top:102px">23<s>/</s>02<s>/</s>2025</p>
<p class="r n" style="right:324.6px;top:102px">-5.00</p>
<p class="r" style="right:259.8px;top:102px">280.54</p>
<p class="r d" style="right:397.65px;top:122px">24<s>/</s>02<s>/</s>2025</p>
<p class="r n" style="right:324.6px;top:122px">-7.00</p>
<p class="r" style="right:259.8px;top:122px">273.54</p>
<p class="r d" style="right:397.65px;top:141px">25<s>/</s>02<s>/</s>2025</p>
<p class="r" style="right:324.6px;top:141px">16.90</p>
<p class="r" style="right:259.8px;top:141px">290.44</p>
<p class="r d" style="right:397.65px;top:160px">26<s>/</s>02<s>/</s>2025</p>
<p class="r n" style="right:324.6px;top:160px">-1.10</p>
<p class="r" style="right:259.8px;top:160px">289.34</p>
<p class="r d" style="right:397.65px;top:180px">27<s>/</s>02<s>/</s>2025</p>
<p class="r n" style="right:324.6px;top:180px">-10.00</p>
<p class="r" style="right:259.8px;top:180px">279.34</p>
<p class="r d" style="right:397.65px;top:199px">28<s>/</s>02<s>/</s>2025</p>
<p class="r n" style="right:324.6px;top:199px">-4.20</p>
<p class="r" style="right:259.8px;top:199px">275.14</p>
<p class="r d" style="right:397.65px;top:218px">1<s>/</s>03<s>/</s>2025</p>
<p class="r" style="right:324.6px;top:218px">1.20</p>
<p class="r" style="right:259.8px;top:218px">276.34</p>
<p class="r d" style="right:397.65px;top:238px">2<s>/</s>03<s>/</s>2025</p>
<p class="r" style="right:324.6px;top:238px">16.60</p>
<p class="r" style="right:259.8px;top:238px">292.94</p>
<p class="r d" style="right:397.65px;top:257px">3<s>/</s>03<s>/</s>2025</p>
<p class="r n" style="right:324.6px;top:257px">-11.00</p>
<p class="r" style="right:259.8px;top:257px">281.94</p>
<p class="r d" style="right:397.65px;top:277px">4<s>/</s>03<s>/</s>2025</p>
<p class="r n" style="right:324.6px;top:277px">-1.50</p>
<p class="r" style="right:259.8px;top:277px">280.44</p>
<p class="r d" style="right:397.65px;top:296px">5<s>/</s>03<s>/</s>2025</p>
<p class="r n" style="right:324.6px;top:296px">-7.00</p>
<p class="r" style="right:259.8px;top:296px">273.44</p>
<p class="r d" style="right:397.65px;top:316px">6<s>/</s>03<s>/</s>2025</p>
<p class="r" style="right:324.6px;top:316px">5.20</p>
<p class="r" style="right:259.8px;top:316px">278.64</p>
<p class="r d" style="right:397.65px;top:335px">7<s>/</s>03<s>/</s>2025</p>
<p class="r n" style="right:324.6px;top:335px">-7.00</p>
<p class="r" style="right:259.8px;top:335px">271.64</p>
<p class="r d" style="right:397.65px;top:354px">8<s>/</s>03<s>/</s>2025</p>
<p class="r n" style="right:324.6px;top:354px">-4.20</p>
<p class="r" style="right:259.8px;top:354px">267.44</p>
<p class="r d" style="right:397.65px;top:374px">9<s>/</s>03<s>/</s>2025</p>
<p class="r n" style="right:324.6px;top:374px">-4.00</p>
<p class="r" style="right:259.8px;top:374px">263.44</p>
<p class="r d" style="right:397.65px;top:393px">10<s>/</s>03<s>/</s>2025</p>
<p class="r n" style="right:324.6px;top:393px">-3.50</p>
<p class="r" style="right:259.8px;top:393px">259.94</p>
<p class="r d" style="right:397.65px;top:413px">11<s>/</s>03<s>/</s>2025</p>
<p class="r n" style="right:324.6px;top:413px">-4.00</p>
<p class="r" style="right:259.8px;top:413px">255.94</p>
<p class="r d" style="right:397.65px;top:432px">12<s>/</s>03<s>/</s>2025</p>
<p class="r n" style="right:324.6px;top:432px">-7.00</p>
<p class="r" style="right:259.8px;top:432px">248.94</p>
<p class="r d" style="right:397.65px;top:451px">13<s>/</s>03<s>/</s>2025</p>
<p class="r" style="right:324.6px;top:451px">8.00</p>
<p class="r" style="right:259.8px;top:451px">256.94</p>
<p class="r d" style="right:397.65px;top:471px">14<s>/</s>03<s>/</s>2025</p>
<p class="r n" style="right:324.6px;top:471px">-7.00</p>
<p class="r" style="right:259.8px;top:471px">249.94</p>
<p class="r d" style="right:397.65px;top:490px">15<s>/</s>03<s>/</s>2025</p>
<p class="r" style="right:324.6px;top:490px">16.50</p>
<p class="r" style="right:259.8px;top:490px">266.44</p>
<p class="r d" style="right:397.65px;top:510px">16<s>/</s>03<s>/</s>2025</p>
<p class="r" style="right:324.6px;top:510px">10.20</p>
<p class="r" style="right:259.8px;top:510px">276.64</p>
<p class="r d" style="right:397.65px;top:529px">17<s>/</s>03<s>/</s>2025</p>
<p class="r n" style="right:324.6px;top:529px">-6.00</p>
<p class="r" style="right:259.8px;top:529px">270.64</p>
<p class="r d" style="right:397.65px;top:548px">18<s>/</s>03<s>/</s>2025</p>
<p class="r" style="right:324.6px;top:548px">0.20</p>
<p class="r" style="right:259.8px;top:548px">270.84</p>
<p class="r d" style="right:397.65px;top:568px">19<s>/</s>03<s>/</s>2025</p>
<p class="r" style="right:324.6px;top:568px">4.00</p>
<p class="r" style="right:259.8px;top:568px">274.84</p>
<p class="r d" style="right:397.65px;top:587px">21<s>/</s>03<s>/</s>2025</p>
<p class="r" style="right:324.6px;top:587px">16.30</p>
<p class="r" style="right:259.8px;top:587px">291.14</p>
<p class="r d" style="right:397.65px;top:607px">22<s>/</s>03<s>/</s>2025</p>
<p class="r" style="right:324.6px;top:607px">1.90</p>
<p class="r" style="right:259.8px;top:607px">293.04</p>
<p class="r d" style="right:397.65px;top:626px">24<s>/</s>03<s>/</s>2025</p>
<p class="r n" style="right:324.6px;top:626px">-5.00</p>
<p class="r" style="right:259.8px;top:626px">288.04</p>
<p class="r d" style="right:397.65px;top:645px">25<s>/</s>03<s>/</s>2025</p>
<p class="r n" style="right:324.6px;top:645px">-8.00</p>
<p class="r" style="right:259.8px;top:645px">280.04</p>
<p class="l h" style="left:704.5px;top:5px">Date</p>
<p class="l h" style="left:808.8px;top:5px">Daily</p>
<p class="l h" style="left:875.5px;top:5px">Growth</p>
<p class="r d" style="right:137.65px;top:25px">26<s>/</s>03<s>/</s>2025</p>
<p class="r n" style="right:74.7px;top:25px">-6.00</p>
<p class="r" style="right:10.4px;top:25px">274.04</p>
<p class="r d" style="right:137.65px;top:44px">27<s>/</s>03<s>/</s>2025</p>
<p class="r" style="right:74.7px;top:44px">15.20</p>
<p class="r" style="right:10.4px;top:44px">289.24</p>
<p class="r d" style="right:137.65px;top:63px">28<s>/</s>03<s>/</s>2025</p>
<p class="r" style="right:74.7px;top:63px">17.80</p>
<p class="r" style="right:10.4px;top:63px">307.04</p>
<p class="r d" style="right:137.65px;top:83px">29<s>/</s>03<s>/</s>2025</p>
<p class="r n" style="right:74.7px;top:83px">-6.00</p>
<p class="r" style="right:10.4px;top:83px">301.04</p>
<p class="r d" style="right:137.65px;top:102px">30<s>/</s>03<s>/</s>2025</p>
<p class="r" style="right:74.7px;top:102px">6.90</p>
<p class="r" style="right:10.4px;top:102px">307.94</p>
<p class="r d" style="right:137.65px;top:122px">31<s>/</s>03<s>/</s>2025</p>
<p class="r" style="right:74.7px;top:122px">1.60</p>
<p class="r" style="right:10.4px;top:122px">309.54</p>
<p class="r d" style="right:137.65px;top:141px">1<s>/</s>04<s>/</s>2025</p>
<p class="r n" style="right:74.7px;top:141px">-4.00</p>
<p class="r" style="right:10.4px;top:141px">305.54</p>
<p class="r d" style="right:137.65px;top:160px">2<s>/</s>04<s>/</s>2025</p>
<p class="r" style="right:74.7px;top:160px">9.20</p>
<p class="r" style="right:10.4px;top:160px">314.74</p>
<p class="r d" style="right:137.65px;top:180px">3<s>/</s>04<s>/</s>2025</p>
<p class="r" style="right:74.7px;top:180px">9.90</p>
<p class="r" style="right:10.4px;top:180px">324.64</p>
<p class="r d" style="right:137.65px;top:199px">4<s>/</s>04<s>/</s>2025</p>
<p class="r" style="right:74.7px;top:199px">2.39</p>
<p class="r" style="right:10.4px;top:199px">327.03</p>
<p class="r d" style="right:137.65px;top:218px">5<s>/</s>04<s>/</s>2025</p>
<p class="r" style="right:74.7px;top:218px">5.50</p>
<p class="r" style="right:10.4px;top:218px">332.53</p>
<p class="r d" style="right:137.65px;top:238px">6<s>/</s>04<s>/</s>2025</p>
<p class="r n" style="right:74.7px;top:238px">-10.00</p>
<p class="r" style="right:10.4px;top:238px">322.53</p>
<p class="r d" style="right:137.65px;top:257px">7<s>/</s>04<s>/</s>2025</p>
<p class="r n" style="right:74.7px;top:257px">-10.00</p>
<p class="r" style="right:10.4px;top:257px">312.53</p>
<p class="r d" style="right:137.65px;top:277px">8<s>/</s>04<s>/</s>2025</p>
<p class="r n" style="right:74.7px;top:277px">-15.00</p>
<p class="r" style="right:10.4px;top:277px">297.53</p>
<p class="r d" style="right:137.65px;top:296px">10<s>/</s>04<s>/</s>2025</p>
<p class="r" style="right:74.7px;top:296px">0.30</p>
<p class="r" style="right:10.4px;top:296px">297.83</p>
<p class="r d" style="right:137.65px;top:316px">11<s>/</s>04<s>/</s>2025</p>
<p class="r" style="right:74.7px;top:316px">7.90</p>
<p class="r" style="right:10.4px;top:316px">305.73</p>
<p class="r d" style="right:137.65px;top:335px">12<s>/</s>04<s>/</s>2025</p>
<p class="r" style="right:74.7px;top:335px">16.30</p>
<p class="r" style="right:10.4px;top:335px">322.03</p>
<p class="r d" style="right:137.65px;top:354px">13<s>/</s>04<s>/</s>2025</p>
<p class="r" style="right:74.7px;top:354px">9.70</p>
<p class="r" style="right:10.4px;top:354px">331.73</p>
<p class="r d" style="right:137.65px;top:374px">14<s>/</s>04<s>/</s>2025</p>
<p class="r" style="right:74.7px;top:374px">15.60</p>
<p class="r" style="right:10.4px;top:374px">347.33</p>
<p class="l h w" style="left:704.5px;top:393px">Grand Total</p>
<p class="r h g" style="right:74.7px;top:393px">347.33</p>
</body></html>
